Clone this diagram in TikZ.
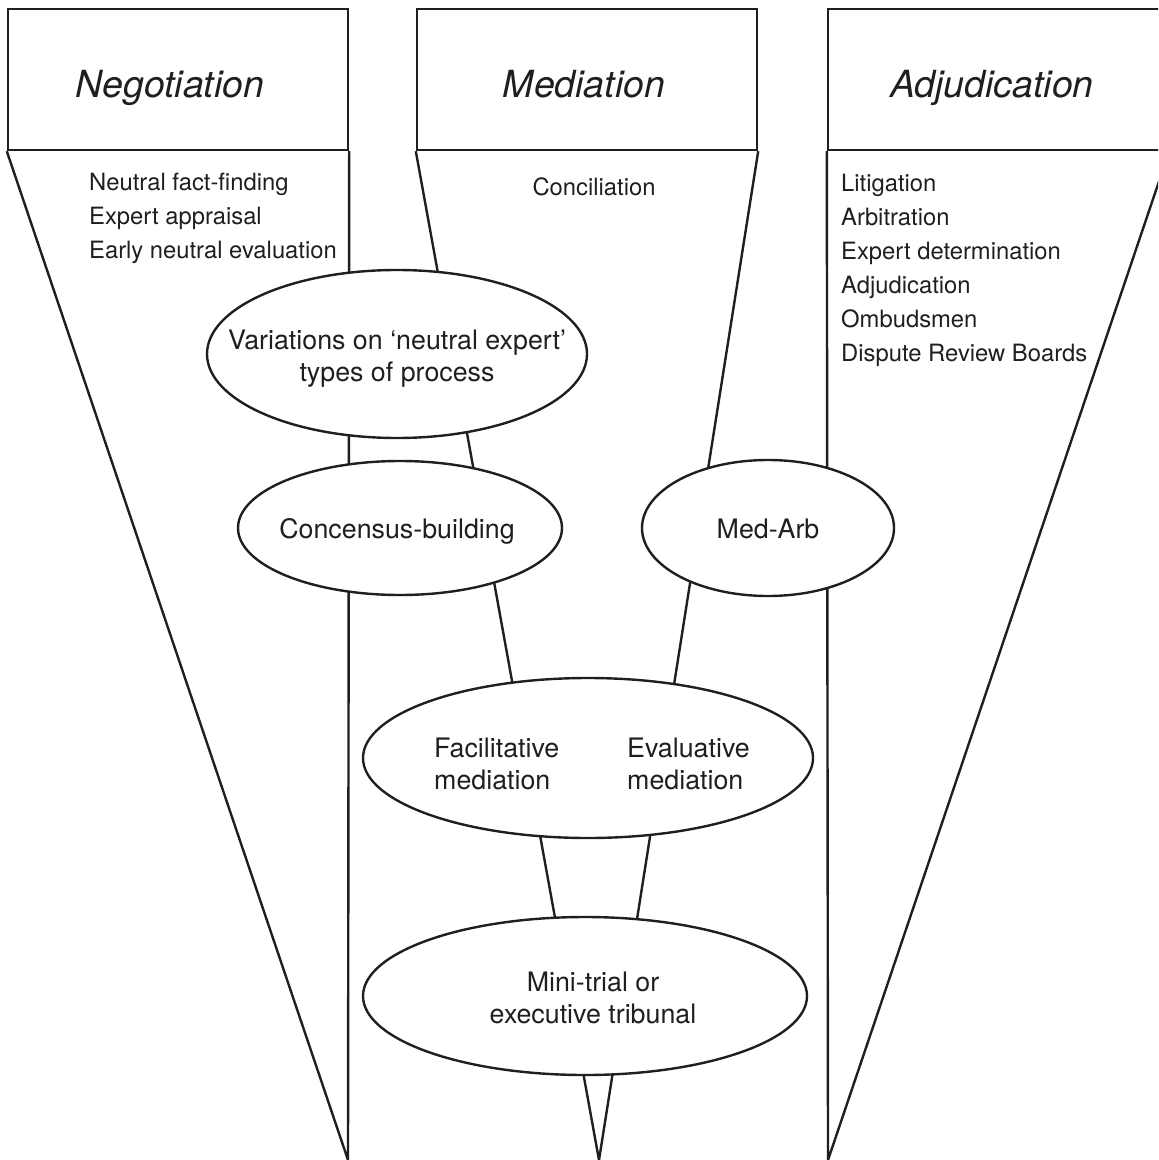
\documentclass[tikz,border=0pt]{standalone}
\usepackage{fontspec}
\setmainfont{TeX Gyre Heros}
\usetikzlibrary{shapes.geometric}
\begin{document}
\begin{tikzpicture}[x=0.5pt,y=-0.5pt,line width=1.2pt,
  ink/.style={draw=black!88},
  headbox/.style={ink,rectangle,inner sep=0pt,minimum width=170pt,minimum height=70.5pt},
  ell/.style={ink,ellipse,fill=white,inner sep=0pt},
  head/.style={font=\fontsize{18.7}{22}\selectfont\itshape,text=black!88,inner sep=0pt,anchor=base},
  item/.style={font=\fontsize{11.9}{17}\selectfont,text=black!88,inner sep=0pt,align=left,anchor=west},
  single/.style={font=\fontsize{11.9}{17}\selectfont,text=black!88,inner sep=0pt,anchor=base},
  etext/.style={font=\fontsize{13.4}{16.3}\selectfont,text=black!88,inner sep=0pt,align=center},
  eleft/.style={font=\fontsize{13.4}{16.3}\selectfont,text=black!88,inner sep=0pt,align=left,anchor=west}]
\useasboundingbox (0,0) rectangle (1158,1160);
\clip (0,0) rectangle (1158,1160);

% top boxes
\node[headbox] (negbox) at (178,79.5) {};
\node[headbox] (medbox) at (587,79.5) {};
\node[headbox] (adjbox) at (998,79.5) {};

\node[head] (neghead) at (170,98) {Negotiation};
\node[head] (medhead) at (584,98) {Mediation};
\node[head] (adjhead) at (992,98) {Adjudication};

% funnels
\coordinate (negtip) at (348,1160);
\coordinate (medtip) at (599,1160);
\coordinate (adjtip) at (828,1160);
\draw[ink] (negbox.south west) -- (negtip) -- (negbox.south east);
\draw[ink] (medbox.south west) -- (medtip) -- (medbox.south east);
\draw[ink] (adjbox.south west) -- (adjtip) -- (adjbox.south east);

% lists
\node[item] (neglist) at (88,218.8) {Neutral fact-finding\\Expert appraisal\\Early neutral evaluation};
\node[single] (concil) at (594,196) {Conciliation};
\node[item] (adjlist) at (840,270.8) {Litigation\\Arbitration\\Expert determination\\Adjudication\\Ombudsmen\\Dispute Review Boards};

% ellipses
\node[ell,minimum width=190pt,minimum height=84pt] (neutral) at (397,354) {};
\node[ell,minimum width=162pt,minimum height=67pt] (consensus) at (400,528) {};
\node[ell,minimum width=126pt,minimum height=68pt] (medarb) at (768,528) {};
\node[ell,minimum width=225pt,minimum height=80pt] (mediation) at (588,758) {};
\node[ell,minimum width=222pt,minimum height=79pt] (minitrial) at (585,996) {};

\node[etext] (neutraltxt) at (397,358.5) {Variations on ‘neutral expert’\\types of process};
\node[etext,anchor=base] (consensustxt) at (397,538) {Concensus-building};
\node[etext,anchor=base] (medarbtxt) at (768,538) {Med-Arb};
\node[eleft] (factxt) at (433,764) {Facilitative\\mediation};
\node[eleft] (evaltxt) at (626,764) {Evaluative\\mediation};
\node[etext] (minitxt) at (593,998) {Mini-trial or\\executive tribunal};
\end{tikzpicture}
\end{document}
